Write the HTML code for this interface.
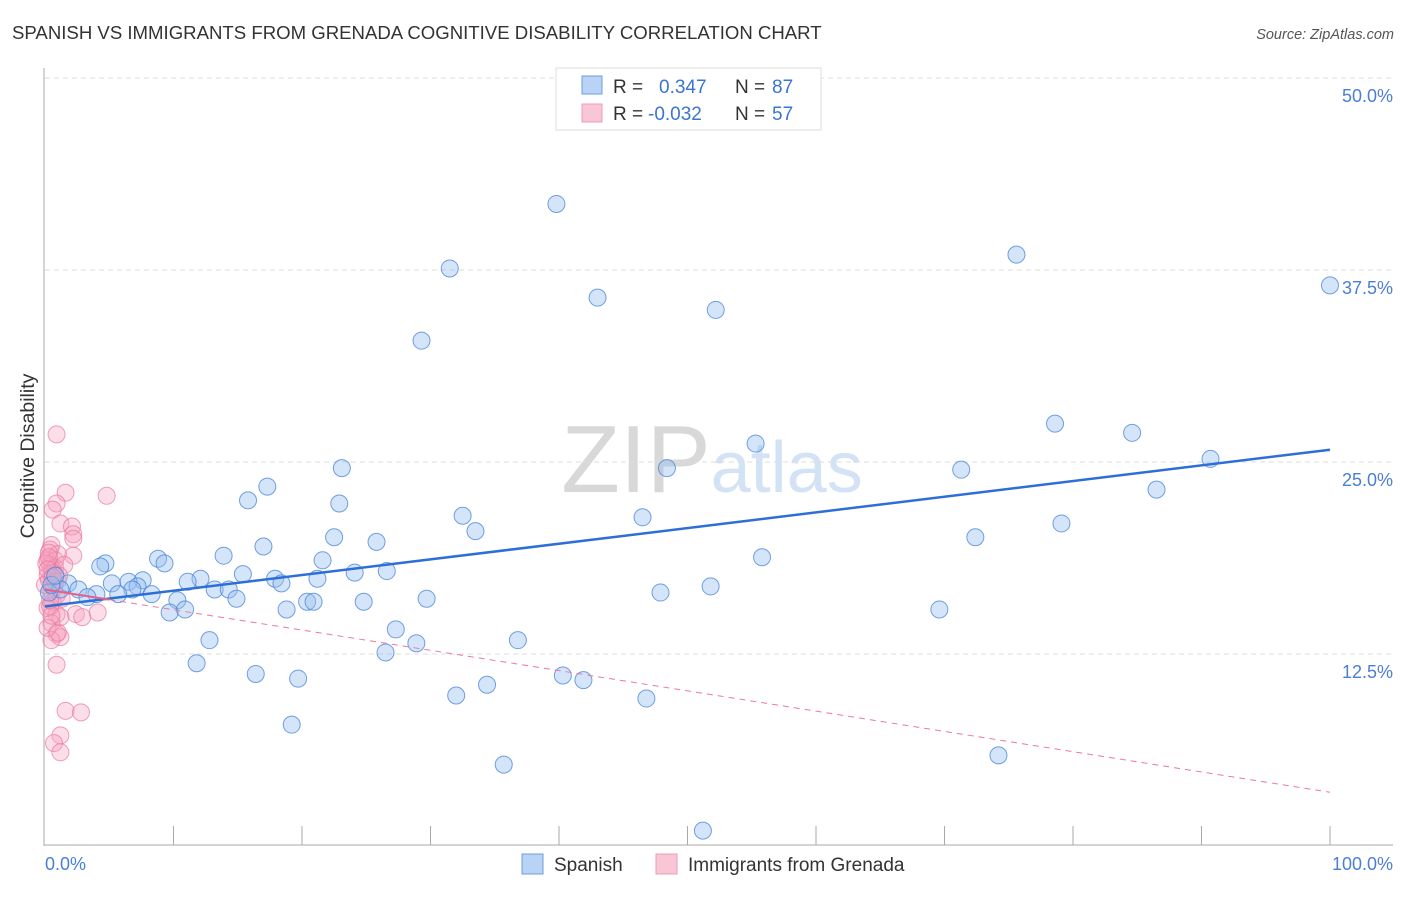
<!DOCTYPE html>
<html><head><meta charset="utf-8"><style>
body{margin:0;background:#fff;font-family:"Liberation Sans",sans-serif;}
svg text{font-family:"Liberation Sans",sans-serif;}
</style></head><body>
<svg width="1406" height="892" xmlns="http://www.w3.org/2000/svg">
<text x="12" y="39" font-size="18.6" fill="#333">SPANISH VS IMMIGRANTS FROM GRENADA COGNITIVE DISABILITY CORRELATION CHART</text>
<text x="1394" y="39" font-size="14.5" fill="#555" font-style="italic" text-anchor="end">Source: ZipAtlas.com</text>
<text x="712" y="492" font-size="96" fill="#ddd" text-anchor="middle" font-family="Liberation Serif"><tspan fill="#d8d8d8">ZIP</tspan><tspan fill="#d3e2f5" font-family="Liberation Sans" font-size="72">atlas</tspan></text>
<g id="grid"></g>
<g id="axes"></g>
<text transform="translate(34,456) rotate(-90)" font-size="19.5" fill="#333" text-anchor="middle">Cognitive Disability</text>
<text x="45" y="870" font-size="18" fill="#4a7fd4">0.0%</text>
<text x="1393" y="870" font-size="18" fill="#4a7fd4" text-anchor="end">100.0%</text>
<g id="pts"></g>
<g id="lines"></g>
<g>
<rect x="556" y="68" width="265" height="62" fill="#fff" stroke="#ddd"/>
<rect x="582" y="76" width="20" height="18" fill="#b8d3f5" stroke="#6c9ee0"/>
<rect x="582" y="104" width="20" height="18" fill="#f9c6d6" stroke="#ee9cb7"/>
<text x="613" y="93" font-size="19" fill="#333">R = </text><text x="659" y="93" font-size="19" fill="#3a75d0">0.347</text>
<text x="735" y="93" font-size="19" fill="#333">N = </text><text x="772" y="93" font-size="19" fill="#3a75d0">87</text>
<text x="613" y="120" font-size="19" fill="#333">R = </text><text x="648" y="120" font-size="19" fill="#3a75d0">-0.032</text>
<text x="735" y="120" font-size="19" fill="#333">N = </text><text x="772" y="120" font-size="19" fill="#3a75d0">57</text>
</g>
<g>
<rect x="522" y="854" width="21" height="20" fill="#b8d3f5" stroke="#6c9ee0"/>
<text x="554" y="871" font-size="19" fill="#333">Spanish</text>
<rect x="656" y="854" width="21" height="20" fill="#f9c6d6" stroke="#ee9cb7"/>
<text x="688" y="871" font-size="19" fill="#333">Immigrants from Grenada</text>
</g>
</svg>
<script>
const yTicks=[12.5,25,37.5,50];
const yTickLabels=["12.5%","25.0%","37.5%","50.0%"];
const blueX=[39.8,31.5,75.6,100,43.0,52.2,29.3,78.6,84.6,55.3,90.7,23.1,48.4,71.3,17.3,86.5,15.8,22.9,32.5,46.5,79.1,33.5,22.5,72.4,25.8,17.0,13.9,8.8,21.6,55.8,4.7,9.3,4.3,15.4,24.1,26.6,12.1,17.9,21.2,7.6,11.1,18.4,6.5,5.2,7.2,1.8,51.8,13.2,14.3,2.6,6.8,1.2,47.9,5.7,8.3,4.0,3.3,14.9,10.3,29.7,20.4,20.9,24.8,18.8,9.7,10.9,69.6,27.3,12.8,36.8,28.9,26.5,11.8,16.4,40.3,41.9,19.7,34.4,32.0,46.8,19.2,74.2,35.7,51.2,0.3,0.5,0.8];
const blueY=[41.8,37.6,38.5,36.5,35.7,34.9,32.9,27.5,26.9,26.2,25.2,24.6,24.6,24.5,23.4,23.2,22.5,22.3,21.5,21.4,21.0,20.5,20.1,20.1,19.8,19.5,18.9,18.7,18.6,18.8,18.4,18.4,18.2,17.7,17.8,17.9,17.4,17.4,17.4,17.3,17.2,17.1,17.2,17.1,16.9,17.1,16.9,16.7,16.7,16.7,16.7,16.7,16.5,16.4,16.4,16.4,16.2,16.1,16.0,16.1,15.9,15.9,15.9,15.4,15.2,15.4,15.4,14.1,13.4,13.4,13.2,12.6,11.9,11.2,11.1,10.8,10.9,10.5,9.8,9.6,7.9,5.9,5.3,1.0,16.5,17.0,17.6];
const pinkX=[0.9,4.8,1.6,0.9,0.6,1.2,2.1,2.2,2.2,0.5,2.2,0.4,0.8,0.4,0.6,0.2,1.0,0.4,0.9,0.6,0.2,0.9,2.4,2.9,4.1,1.2,0.5,0.9,1.2,0.5,0.9,1.6,2.8,1.2,0.7,1.2,0.2,0.3,0.8,1.0,0.0,0.4,1.3,0.2,1.5,0.6,0.3,0.7,0.1,0.5,1.1,0.3,0.8,0.4,0.2,0.6,1.0];
const pinkY=[26.8,22.8,23.0,22.3,21.9,21.0,20.8,20.3,20.0,19.6,18.9,19.3,18.6,18.3,18.0,17.6,17.3,16.7,16.3,15.9,15.5,15.1,15.1,14.9,15.2,14.9,14.5,13.8,13.6,13.4,11.8,8.8,8.7,7.2,6.7,6.1,18.6,17.3,18.1,19.0,17.0,15.6,16.1,14.2,18.3,17.8,19.1,16.8,18.4,15.0,17.6,18.8,17.2,16.0,18.0,17.5,13.9];
const blueTrend=[15.6,25.8];
const pinkTrend=[16.7,3.5];
const X0=45,X1=1330,Y0=846,PXY=15.36;
const sx=v=>X0+(X1-X0)*v/100, sy=v=>Y0-v*PXY;
const NS="http://www.w3.org/2000/svg";
function mk(tag,attrs,parent){const e=document.createElementNS(NS,tag);for(const k in attrs)e.setAttribute(k,attrs[k]);parent.appendChild(e);return e;}
const grid=document.getElementById('grid'),axes=document.getElementById('axes'),pts=document.getElementById('pts'),lines=document.getElementById('lines');
yTicks.forEach((t,i)=>{
  const l=mk('line',{x1:45,x2:1393,y1:sy(t),y2:sy(t),stroke:'#ddd','stroke-dasharray':'5,4'},grid);
  
  
  const tx=mk('text',{x:1393,y:sy(t)+24,'font-size':18,fill:'#4a7fd4','text-anchor':'end'},grid);
  tx.textContent=yTickLabels[i];
  
  
});
mk('line',{x1:44,x2:44,y1:68,y2:846,stroke:'#aaa'},axes);
mk('line',{x1:44,x2:1393,y1:845,y2:845,stroke:'#aaa'},axes);
for(let k=1;k<=10;k++){const t=mk('line',{x1:sx(k*10),x2:sx(k*10),y1:826,y2:845,stroke:'#aaa'},axes);
  
  }
pinkX.forEach((x,i)=>{const c=mk('circle',{cx:sx(x),cy:sy(pinkY[i]),r:8.5,fill:'rgba(246,160,188,0.35)',stroke:'rgba(232,120,160,0.7)','stroke-width':1},pts);
  
  });
blueX.forEach((x,i)=>{const c=mk('circle',{cx:sx(x),cy:sy(blueY[i]),r:8.5,fill:'rgba(150,190,240,0.4)',stroke:'rgba(70,130,215,0.75)','stroke-width':1},pts);
  
  });
const bl=mk('line',{x1:sx(0),y1:sy(blueTrend[0]),x2:sx(100),y2:sy(blueTrend[1]),stroke:'#2d6fd6','stroke-width':2.5},lines);


const f=v=>pinkTrend[0]+(pinkTrend[1]-pinkTrend[0])*v/100;
const ps=mk('line',{x1:sx(0),y1:sy(f(0)),x2:sx(5),y2:sy(f(5)),stroke:'#e5608a','stroke-width':2},lines);


const pd=mk('line',{x1:sx(5),y1:sy(f(5)),x2:sx(100),y2:sy(f(100)),stroke:'#e87a9e','stroke-width':1,'stroke-dasharray':'6,5'},lines);


</script>
</body></html>
